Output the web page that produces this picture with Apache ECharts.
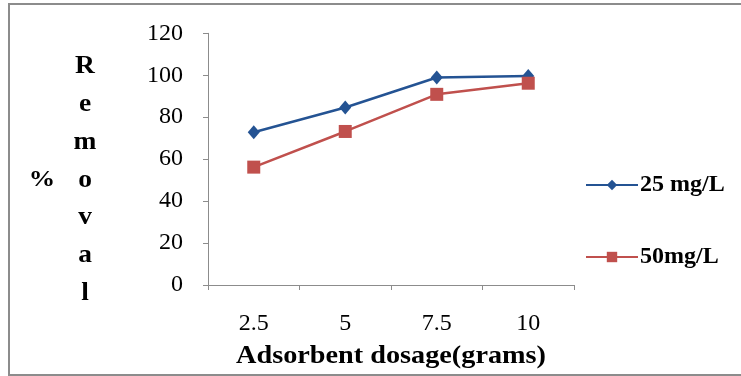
<!DOCTYPE html>
<html>
<head>
<meta charset="utf-8">
<style>
html,body{margin:0;padding:0;background:#fff;}
#c{width:741px;height:376px;}
</style>
<script src="https://cdn.jsdelivr.net/npm/echarts@6/dist/echarts.min.js"></script>
</head>
<body>
<div id="c"></div>
<script>
const categories = ['2.5', '5', '7.5', '10'];
const series25 = [72.8, 84.6, 98.9, 99.6];
const series50 = [56.2, 73.2, 90.9, 96.2];
const seriesNames = ['25 mg/L', '50mg/L'];
const yTicks = [0, 20, 40, 60, 80, 100, 120];
const xTitle = 'Adsorbent dosage(grams)';
const yTitleLetters = ['R','e','m','o','v','a','l'];
const yTitlePrefix = '%';

const chart = echarts.init(document.getElementById('c'));
const serif = '"Liberation Serif", "DejaVu Serif", serif';
const graphics = [
  {type:'rect', shape:{x:9, y:4, width:760, height:371}, style:{fill:'none', stroke:'#8c8c8c', lineWidth:2}, silent:true},
  {type:'text', x:42, y:180, scaleX:1.1, style:{text:yTitlePrefix, font:'bold 24px ' + serif, fill:'#000', align:'center', verticalAlign:'middle'}},
  {type:'text', x:391, y:357, scaleX:1.13, style:{text:xTitle, font:'bold 25px ' + serif, fill:'#000', align:'center', verticalAlign:'middle'}}
];
yTitleLetters.forEach((ch, i) => {
  graphics.push({type:'text', x:85, y:67 + i*37.7, scaleX:1.1, style:{text:ch, font:'bold 25px ' + serif, fill:'#000', align:'center', verticalAlign:'middle'}});
});

chart.setOption({
  animation:false,
  backgroundColor:'#fff',
  grid:{left:208, right:167, top:33.3, bottom:91, containLabel:false, outerBoundsMode:'none'},
  graphic: graphics,
  legend:{
    orient:'vertical', left:585, top:173, padding:0, itemGap:48, itemWidth:52, itemHeight:13,
    data: seriesNames,
    textStyle:{fontFamily:serif, fontWeight:'bold', fontSize:24, color:'#000', padding:[0,0,0,-3]}
  },
  xAxis:{
    type:'category', data:categories, boundaryGap:true,
    axisLine:{lineStyle:{color:'#8c8c8c', width:1}},
    axisTick:{show:true, length:5, lineStyle:{color:'#8c8c8c'}},
    axisLabel:{fontFamily:serif, fontSize:24, color:'#000', margin:27}
  },
  yAxis:{
    type:'value', min:0, max:120, interval:20,
    axisLine:{show:true, lineStyle:{color:'#8c8c8c', width:1}},
    axisTick:{show:true, length:5, lineStyle:{color:'#8c8c8c'}},
    splitLine:{show:false},
    axisLabel:{fontFamily:serif, fontSize:24, color:'#000', margin:25,
      formatter: v => yTicks.includes(v) ? String(v) : ''}
  },
  series:[
    {name:seriesNames[0], type:'line', data:series25, symbol:'diamond', symbolSize:[12,14],
     itemStyle:{color:'#245393'}, lineStyle:{color:'#245393', width:2.5}},
    {name:seriesNames[1], type:'line', data:series50, symbol:'rect', symbolSize:13,
     itemStyle:{color:'#c0504d'}, lineStyle:{color:'#c0504d', width:2.5}}
  ]
});
</script>
</body>
</html>
